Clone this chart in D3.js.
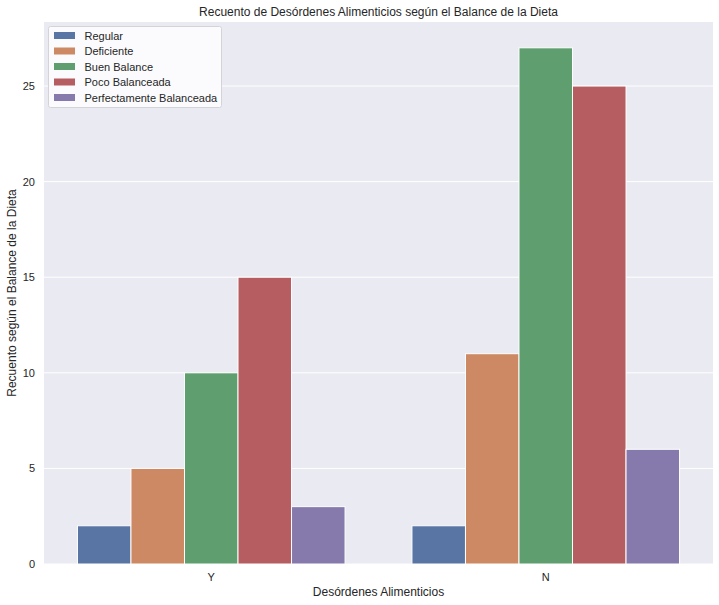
<!DOCTYPE html>
<html><head><meta charset="utf-8">
<script src="https://cdn.jsdelivr.net/npm/d3@7"></script>
<style>body{margin:0;background:#fff}text{font-family:"Liberation Sans",Arial,sans-serif;fill:#262626}</style>
</head><body><svg id="c" width="719" height="605"></svg>
<script>
const categories = ["Y", "N"];
const hues = ["Regular", "Deficiente", "Buen Balance", "Poco Balanceada", "Perfectamente Balanceada"];
const valuesY = [2, 5, 10, 15, 3];
const valuesN = [2, 11, 27, 25, 6];
const yTicks = [0, 5, 10, 15, 20, 25];
const colors = ["#5975a4", "#cc8963", "#5f9e6e", "#b55d60", "#857aab"];
const seriesByCat = {Y: valuesY, N: valuesN};

const svg = d3.select("#c");
const m = {l: 44, r: 6, t: 22, b: 41};
const W = 719, H = 605;
const iw = W - m.l - m.r, ih = H - m.t - m.b;
const g = svg.append("g").attr("transform", `translate(${m.l},${m.t})`);
g.append("rect").attr("width", iw).attr("height", ih).attr("fill", "#eaeaf2");

const x = d3.scaleBand().domain(categories).range([0, iw]).paddingInner(0.2).paddingOuter(0.1);
const xs = d3.scaleBand().domain(hues).range([0, x.bandwidth()]);
const ymax = 27 * 1.05;
const y = d3.scaleLinear().domain([0, ymax]).range([ih, 0]);

g.selectAll(".grid").data(yTicks).join("line")
  .attr("x1", 0).attr("x2", iw).attr("y1", d => y(d)).attr("y2", d => y(d))
  .attr("stroke", "#fff").attr("stroke-width", 1);

const yAxis = d3.axisLeft(y).tickValues(yTicks).tickSize(0).tickPadding(9);
const ya = g.append("g").call(yAxis);
ya.select(".domain").remove();
ya.selectAll("text").attr("font-size", 11).style("fill", "#262626");

const xAxis = d3.axisBottom(x).tickSize(0).tickPadding(9);
const xa = g.append("g").attr("transform", `translate(0,${ih})`).call(xAxis);
xa.select(".domain").remove();
xa.selectAll("text").attr("font-size", 11).style("fill", "#262626");

categories.forEach(c => {
  g.append("g").selectAll("rect").data(seriesByCat[c]).join("rect")
    .attr("x", (d, i) => x(c) + xs(hues[i]))
    .attr("y", d => y(d))
    .attr("width", xs.bandwidth())
    .attr("height", d => y(0) - y(d))
    .attr("fill", (d, i) => colors[i])
    .attr("stroke", "#fff").attr("stroke-width", 1);
});

svg.append("text").attr("x", m.l + iw / 2).attr("y", 16).attr("text-anchor", "middle")
  .attr("font-size", 12).text("Recuento de Desórdenes Alimenticios según el Balance de la Dieta");
svg.append("text").attr("x", m.l + iw / 2).attr("y", 596).attr("text-anchor", "middle")
  .attr("font-size", 12).text("Desórdenes Alimenticios");
svg.append("text").attr("transform", `translate(16,${m.t + ih / 2}) rotate(-90)`).attr("text-anchor", "middle")
  .attr("font-size", 12).text("Recuento según el Balance de la Dieta");

const lg = svg.append("g").attr("transform", "translate(48.5,26.5)");
lg.append("rect").attr("width", 173).attr("height", 81).attr("rx", 2)
  .attr("fill", "#fbfbfd").attr("stroke", "#d4d4d8").attr("stroke-width", 1);
hues.forEach((h, i) => {
  const yy = 9 + i * 15.5;
  lg.append("rect").attr("x", 5.5).attr("y", yy - 3.5).attr("width", 21).attr("height", 7).attr("fill", colors[i]);
  lg.append("text").attr("x", 36).attr("y", yy + 4).attr("font-size", 11).text(h);
});
</script></body></html>
